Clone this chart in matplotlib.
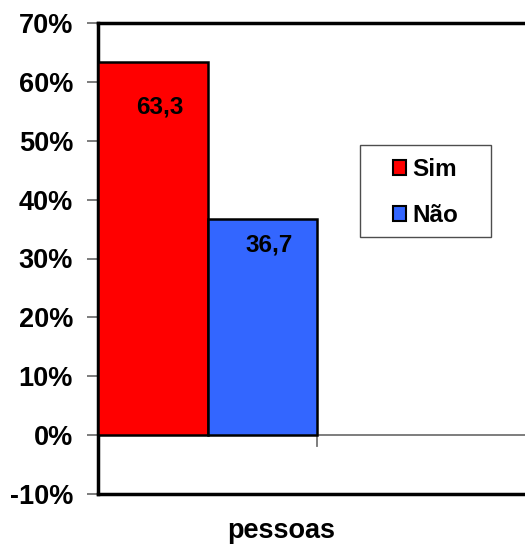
import matplotlib.pyplot as plt
from matplotlib.patches import Patch, Rectangle
from matplotlib.ticker import FuncFormatter

plt.rcParams['font.family'] = ['Liberation Sans', 'DejaVu Sans']

# dados
categoria = "pessoas"
series = ["Sim", "Não"]
valores = [63.3, 36.7]
rotulos = ["63,3", "36,7"]
cores = ["#FF0000", "#3366FF"]
yticks = [-10, 0, 10, 20, 30, 40, 50, 60, 70]

W, H = 525, 546
fig = plt.figure(figsize=(W / 100, H / 100), dpi=100)
# area de plotagem (passa da borda direita, como no original recortado)
left, right, top, bottom = 98, 536, 23, 494
ax = fig.add_axes([left / W, 1 - bottom / H, (right - left) / W, (bottom - top) / H])

largura = 0.5
for i, (v, c) in enumerate(zip(valores, cores)):
    ax.bar(i * largura, v, width=largura, align='edge', color=c,
           edgecolor='black', linewidth=1.8, zorder=3)

# rotulos de dados (deslocamento em pixels abaixo do topo)
desloc = [-45, -26]
for i, (v, r) in enumerate(zip(valores, rotulos)):
    ax.annotate(r, (i * largura + largura / 2, v), xytext=(7, desloc[i]),
                textcoords='offset pixels', ha='center', va='center',
                fontsize=17.5, fontweight='bold', zorder=4)

ax.set_xlim(0, 2)
ax.set_ylim(-10, 70)
ax.set_yticks(yticks)
ax.yaxis.set_major_formatter(FuncFormatter(lambda v, p: f"{v:.0f}%"))
ax.tick_params(axis='y', length=8, width=1.2, color='0.4', pad=10,
               labelsize=19.5)
for t in ax.get_yticklabels():
    t.set_fontweight('bold')
ax.set_xticks([])

# linha do zero e marca de categoria
ax.axhline(0, color='0.45', linewidth=1.3, zorder=2)
ax.plot([1, 1], [0, -1.9], color='0.45', linewidth=1.3, clip_on=False, zorder=2)

for s in ['left', 'bottom', 'top']:
    ax.spines[s].set_linewidth(2.5)
    ax.spines[s].set_color('black')
ax.spines['right'].set_visible(False)

fig.text(281 / W, 1 - 531 / H, categoria, ha='center', va='center',
         fontsize=19.5, fontweight='bold')

# caixa da legenda
fig.patches.append(Rectangle((360 / W, 1 - 237 / H), 131 / W, 92 / H,
                             transform=fig.transFigure, facecolor='white',
                             edgecolor='0.3', linewidth=1.0, zorder=5))
handles = [Patch(facecolor=c, edgecolor='black', linewidth=1.5) for c in cores]
leg = fig.legend(handles, series, loc='upper left',
                 bbox_to_anchor=(393 / W, 1 - 158 / H),
                 frameon=False,
                 handlelength=0.55, handleheight=0.55, handletextpad=0.25,
                 borderpad=0, labelspacing=0.95, borderaxespad=0,
                 prop={'weight': 'bold', 'size': 17.5})
leg.set_zorder(6)

fig.savefig("out.png", dpi=100)
